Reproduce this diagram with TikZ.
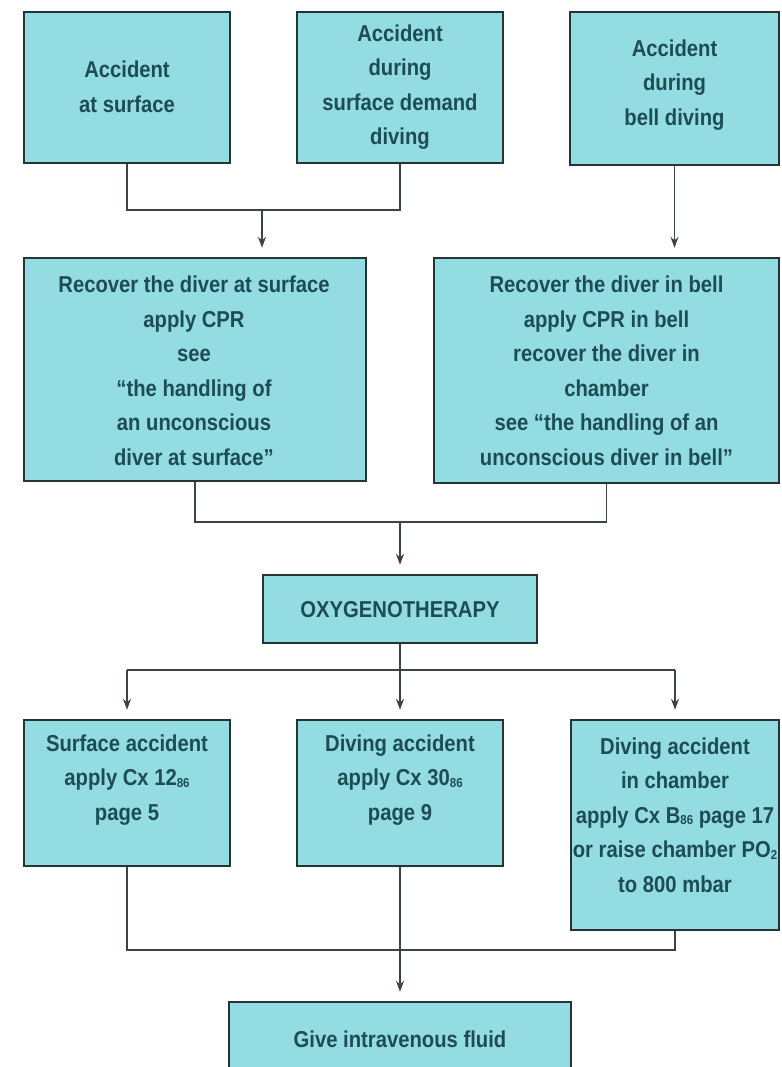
\documentclass[tikz,border=0pt]{standalone}
\usepackage{fontspec}
\newfontfamily\boxfont[FakeStretch=0.88]{Liberation Sans}
\usetikzlibrary{arrows.meta}
\definecolor{boxfill}{HTML}{92DCE2}
\definecolor{boxline}{HTML}{263434}
\definecolor{txtcol}{HTML}{1E4C55}
\definecolor{conncol}{HTML}{3A4444}
\newcommand{\sbs}[1]{\raisebox{-1.5pt}{\fontsize{13}{13}\selectfont #1}}
\tikzset{
  box/.style={draw=boxline, fill=boxfill, line width=2.4pt, rectangle, inner sep=0pt},
  txt/.style={align=center, text=txtcol, inner sep=0pt,
    font=\boxfont\bfseries\fontsize{23}{34.5}\selectfont},
  conn/.style={draw=conncol, line width=1.7pt},
  arr/.style={conn, -{Stealth[length=11pt, width=8pt]}, shorten >=9pt}
}
\begin{document}
\begin{tikzpicture}[x=1pt,y=-1pt]
\useasboundingbox (0,0) rectangle (781,1067);
\clip (0,0) rectangle (781,1067);
% top row
\node[box, minimum width=206, minimum height=151] (a1) at (127,87.5) {};
\node[txt] (a1t) at (127,87) {Accident\\at surface};
\node[box, minimum width=206, minimum height=151] (a2) at (400,87.5) {};
\node[txt] (a2t) at (400,87) {Accident\\during\\surface demand\\diving};
\node[box, minimum width=209, minimum height=153] (a3) at (674.5,88.5) {};
\node[txt] (a3t) at (674.5,85) {Accident\\during\\bell diving};
% second row
\node[box, minimum width=342, minimum height=223] (b1) at (195,369.5) {};
\node[txt] (b1t) at (194,371) {Recover the diver at surface\\apply CPR\\see\\“the handling of\\an unconscious\\diver at surface”};
\node[box, minimum width=345, minimum height=225] (b2) at (606.5,370.5) {};
\node[txt] (b2t) at (606.5,371) {Recover the diver in bell\\apply CPR in bell\\recover the diver in\\chamber\\see “the handling of an\\unconscious diver in bell”};
% oxygenotherapy
\node[box, minimum width=274, minimum height=68] (oxy) at (400,609) {};
\node[txt] (oxyt) at (400,610) {OXYGENOTHERAPY};
% third row
\node[box, minimum width=206, minimum height=146] (c1) at (127,793) {};
\node[txt] (c1t) at (127,780) {Surface accident\\apply Cx 12\sbs{86}\\page 5};
\node[box, minimum width=206, minimum height=146] (c2) at (400,793) {};
\node[txt] (c2t) at (400,780) {Diving accident\\apply Cx 30\sbs{86}\\page 9};
\node[box, minimum width=208, minimum height=210] (c3) at (675,825) {};
\node[txt] (c3t) at (675,815) {Diving accident\\in chamber\\apply Cx B\sbs{86} page 17\\or raise chamber PO\sbs{2}\\to 800 mbar};
% last box
\node[box, minimum width=342, minimum height=110] (d) at (400,1057) {};
\node[txt] (dt) at (400,1039) {Give intravenous fluid};
% junctions
\coordinate (j1) at (262,210);
\coordinate (j2) at (400,522);
\coordinate (j3) at (400,670);
\coordinate (j4) at (400,950);
% connectors
\draw[conn] (a1.south) |- (j1);
\draw[conn] (a2.south) |- (j1);
\draw[arr] (j1) -- (j1 |- b1.north);
\draw[arr] (a3.south) -- (a3.south |- b2.north);
\draw[conn] (b1.south) |- (j2);
\draw[conn] (b2.south) |- (j2);
\draw[arr] (j2) -- (oxy.north);
\draw[conn] (oxy.south) -- (j3);
\draw[conn] (j3 -| c1.north) -- (j3 -| c3.north);
\draw[arr] (j3 -| c1.north) -- (c1.north);
\draw[arr] (j3) -- (c2.north);
\draw[arr] (j3 -| c3.north) -- (c3.north);
\draw[conn] (c1.south) |- (j4);
\draw[conn] (c3.south) |- (j4);
\draw[arr] (c2.south) -- (d.north);
\end{tikzpicture}
\end{document}
